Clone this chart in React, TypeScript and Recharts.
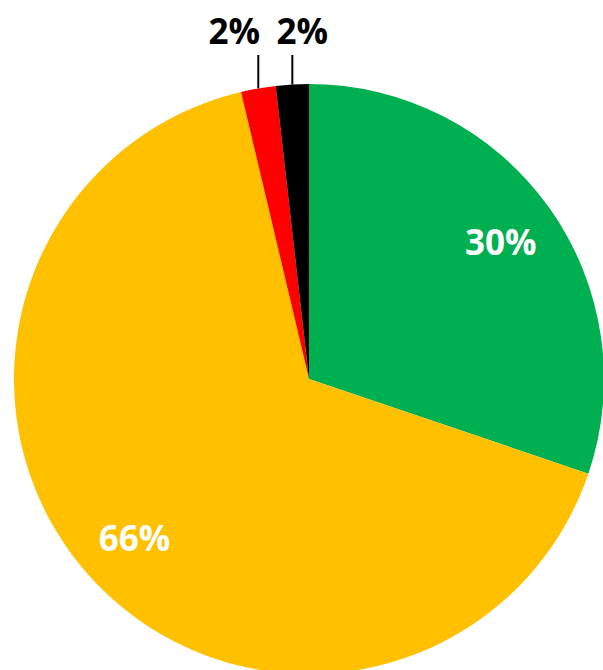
import { Cell, Pie, PieChart } from 'recharts'

const SEGMENTS = ['Green', 'Yellow', 'Red', 'Black']
const VALUES = [30.2, 66.1, 1.9, 1.8]
const COLORS = ['#00B050', '#FFC000', '#FF0000', '#000000']

const data = SEGMENTS.map((name, i) => ({ name, value: VALUES[i] }))

const RADIAN = Math.PI / 180
const FONT = '"Open Sans", "Noto Sans", sans-serif'

function renderLabel(props: any) {
  const { cx, cy, midAngle, outerRadius, value, index } = props
  const cos = Math.cos(-midAngle * RADIAN)
  const sin = Math.sin(-midAngle * RADIAN)
  const text = `${Math.round(value)}%`
  if (value >= 10) {
    const r = outerRadius * 0.8
    return (
      <text
        x={cx + r * cos}
        y={cy + r * sin}
        fill="#FFFFFF"
        textAnchor="middle"
        dominantBaseline="central"
        fontFamily={FONT}
        fontWeight={700}
        fontSize={35}
      >
        {text}
      </text>
    )
  }
  // small slices: vertical leader line above the pie
  const x = cx + outerRadius * cos
  const y = cy + outerRadius * sin
  const shift = index === 2 ? -24 : 10
  return (
    <g>
      <line x1={x} y1={y} x2={x} y2={55} stroke="#000" strokeWidth={2} />
      <text
        x={x + shift}
        y={44}
        fill="#000"
        textAnchor="middle"
        fontFamily={FONT}
        fontWeight={700}
        fontSize={35}
      >
        {text}
      </text>
    </g>
  )
}

export default function App() {
  return (
    <div style={{ position: 'absolute', left: 0, top: 0, width: 603, height: 670, background: '#fff' }}>
      <PieChart width={603} height={670} margin={{ top: 0, right: 0, bottom: 0, left: 0 }}>
        <Pie
          data={data}
          dataKey="value"
          cx={309}
          cy={379}
          outerRadius={295}
          startAngle={90}
          endAngle={-270}
          stroke="none"
          label={renderLabel}
          labelLine={false}
          isAnimationActive={false}
        >
          {data.map((d, i) => (
            <Cell key={d.name} fill={COLORS[i]} />
          ))}
        </Pie>
      </PieChart>
    </div>
  )
}
